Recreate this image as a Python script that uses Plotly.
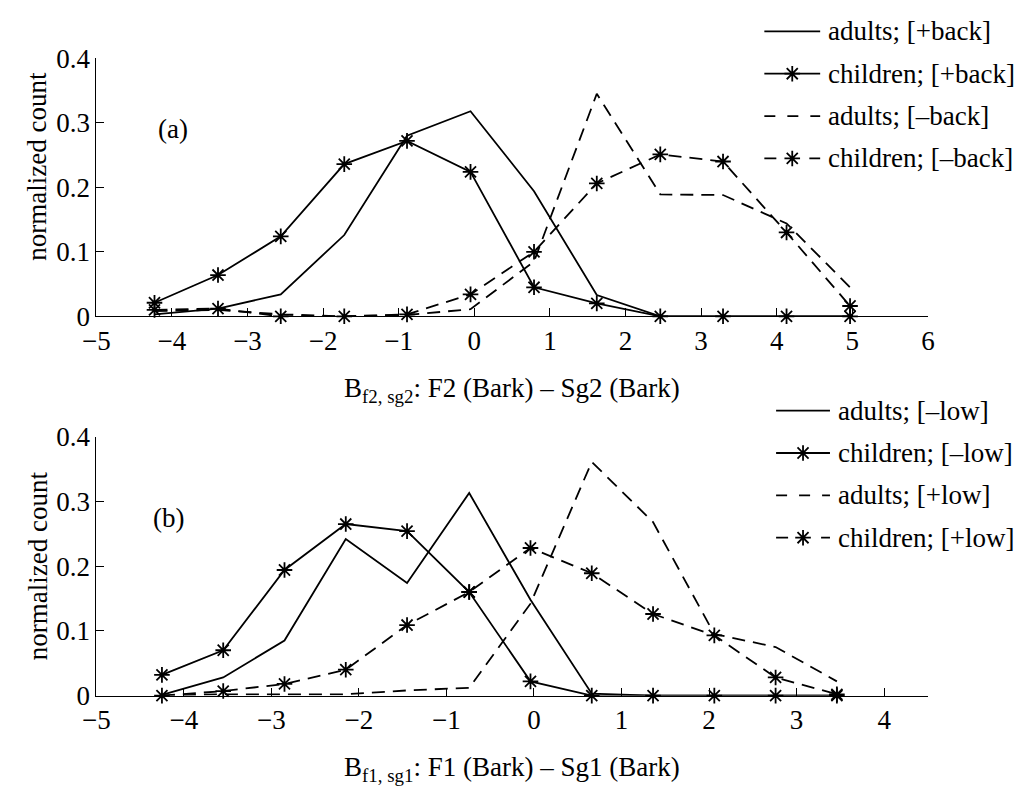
import plotly.graph_objects as go

FONT = "Liberation Serif, Times New Roman, Times, serif"
W, H = 1027, 803

# ---- panel (a): F2 - Sg2 (Bark) histogram bin centres and normalized counts
x_a = [-4.23, -3.39, -2.56, -1.72, -0.89, -0.05, 0.79, 1.62, 2.46, 3.29, 4.13, 4.97]
adults_plus_back = [0.003, 0.012, 0.034, 0.126, 0.280, 0.318, 0.194, 0.033, 0.0, 0.0, 0.0, 0.0]
children_plus_back = [0.021, 0.064, 0.124, 0.236, 0.272, 0.224, 0.045, 0.020, 0.0, 0.0, 0.0, 0.0]
adults_minus_back = [0.008, 0.010, 0.003, 0.000, 0.002, 0.011, 0.085, 0.345, 0.189, 0.188, 0.144, 0.045]
children_minus_back = [0.010, 0.012, 0.000, 0.000, 0.003, 0.034, 0.100, 0.206, 0.251, 0.240, 0.130, 0.016]

# ---- panel (b): F1 - Sg1 (Bark)
x_b = [-4.25, -3.55, -2.85, -2.15, -1.45, -0.74, -0.04, 0.66, 1.36, 2.06, 2.76, 3.46]
adults_minus_low = [0.001, 0.028, 0.085, 0.242, 0.174, 0.313, 0.148, 0.003, 0.0, 0.0, 0.0, 0.0]
children_minus_low = [0.032, 0.070, 0.194, 0.265, 0.254, 0.160, 0.022, 0.0, 0.0, 0.0, 0.0, 0.0]
adults_plus_low = [0.0, 0.002, 0.002, 0.002, 0.008, 0.012, 0.142, 0.361, 0.268, 0.095, 0.075, 0.022]
children_plus_low = [0.0, 0.007, 0.018, 0.040, 0.109, 0.160, 0.228, 0.189, 0.126, 0.093, 0.028, 0.002]

labels_a = ["adults; [+back]", "children; [+back]", "adults; [–back]", "children; [–back]"]
labels_b = ["adults; [–low]", "children; [–low]", "adults; [+low]", "children; [+low]"]
y_ticks = [0, 0.1, 0.2, 0.3, 0.4]

LW = 1.8
DASH = "13px,8px"
STAR = dict(symbol="asterisk-open", size=13, color="black",
            line=dict(color="black", width=1.8))

fig = go.Figure()


def add_series(x, y, dashed, star, xa, ya):
    fig.add_trace(go.Scatter(
        x=x, y=y, xaxis=xa, yaxis=ya,
        mode="lines+markers" if star else "lines",
        line=dict(color="black", width=LW, dash=DASH if dashed else "solid"),
        marker=STAR, cliponaxis=False, showlegend=False, hoverinfo="skip"))


series_a = [(adults_plus_back, False, False), (children_plus_back, False, True),
            (adults_minus_back, True, False), (children_minus_back, True, True)]
series_b = [(adults_minus_low, False, False), (children_minus_low, False, True),
            (adults_plus_low, True, False), (children_plus_low, True, True)]

for y, dashed, star in series_a:
    add_series(x_a, y, dashed, star, "x", "y")
for y, dashed, star in series_b:
    add_series(x_b, y, dashed, star, "x2", "y2")


# Legends are drawn on a full-figure pixel overlay axis (x3/y3)
def draw_legend(labels, styles, x0, x1, y0, step):
    for i, (label, (_, dashed, star)) in enumerate(zip(labels, styles)):
        yy = y0 + i * step
        if dashed:
            # "- * -" keeps a clear gap around the star; "- - -" shows three dashes
            dash = "12px,33px" if star else "11px,12px"
        else:
            dash = "solid"
        fig.add_trace(go.Scatter(
            x=[x0, x1], y=[yy, yy], xaxis="x3", yaxis="y3", mode="lines",
            line=dict(color="black", width=LW, dash=dash),
            showlegend=False, hoverinfo="skip", cliponaxis=False))
        if star:
            fig.add_trace(go.Scatter(
                x=[(x0 + x1) / 2], y=[yy], xaxis="x3", yaxis="y3", mode="markers",
                marker=STAR, showlegend=False, hoverinfo="skip", cliponaxis=False))
        fig.add_annotation(x=x1 + 6, y=yy, xref="x3", yref="y3", text=label,
                           xanchor="left", yanchor="middle", showarrow=False,
                           font=dict(family=FONT, size=27, color="black"))


draw_legend(labels_a, series_a, 766, 823, 17, 44)
draw_legend(labels_b, series_b, 778, 833, 411, 44)

# Panel letters
fig.add_annotation(x=162, y=118, xref="x3", yref="y3", text="(a)", showarrow=False,
                   font=dict(family=FONT, size=27, color="black"))
fig.add_annotation(x=158, y=522, xref="x3", yref="y3", text="(b)", showarrow=False,
                   font=dict(family=FONT, size=27, color="black"))

# Axis titles
fig.add_annotation(x=508, y=370, xref="x3", yref="y3", yanchor="top",
                   text="B<sub>f2, sg2</sub>: F2 (Bark) – Sg2 (Bark)", showarrow=False,
                   font=dict(family=FONT, size=27, color="black"))
fig.add_annotation(x=508, y=764, xref="x3", yref="y3", yanchor="top",
                   text="B<sub>f1, sg1</sub>: F1 (Bark) – Sg1 (Bark)", showarrow=False,
                   font=dict(family=FONT, size=27, color="black"))
fig.add_annotation(x=24, y=157, xref="x3", yref="y3", textangle=-90,
                   text="normalized count", showarrow=False,
                   font=dict(family=FONT, size=27, color="black"))
fig.add_annotation(x=24, y=572, xref="x3", yref="y3", textangle=-90,
                   text="normalized count", showarrow=False,
                   font=dict(family=FONT, size=27, color="black"))

axis_common = dict(showline=True, linecolor="black", linewidth=1, mirror=False,
                   showgrid=False, zeroline=False, ticks="inside", ticklen=8,
                   tickcolor="black", tickwidth=1,
                   tickfont=dict(family=FONT, size=27, color="black"))

xd = [84 / W, 933 / W]
fig.update_layout(
    width=W, height=H, margin=dict(l=0, r=0, t=0, b=0),
    font=dict(family=FONT, size=27, color="black"),
    paper_bgcolor="white", plot_bgcolor="rgba(0,0,0,0)", showlegend=False,
    xaxis=dict(domain=xd, range=[-5, 6], dtick=1, tick0=0, anchor="y", **axis_common),
    yaxis=dict(domain=[(H - 313) / H, (H - 45) / H], range=[0, 0.4],
               tickvals=y_ticks, anchor="x", **axis_common),
    xaxis2=dict(domain=xd, range=[-5, 4.5], dtick=1, tick0=0, anchor="y2", **axis_common),
    yaxis2=dict(domain=[(H - 707) / H, (H - 438) / H], range=[0, 0.4],
                tickvals=y_ticks, anchor="x2", **axis_common),
    xaxis3=dict(domain=[0, 1], range=[0, W], visible=False, anchor="y3", fixedrange=True),
    yaxis3=dict(domain=[0, 1], range=[H, 0], visible=False, anchor="x3", fixedrange=True),
)

fig.write_html("out.html")
